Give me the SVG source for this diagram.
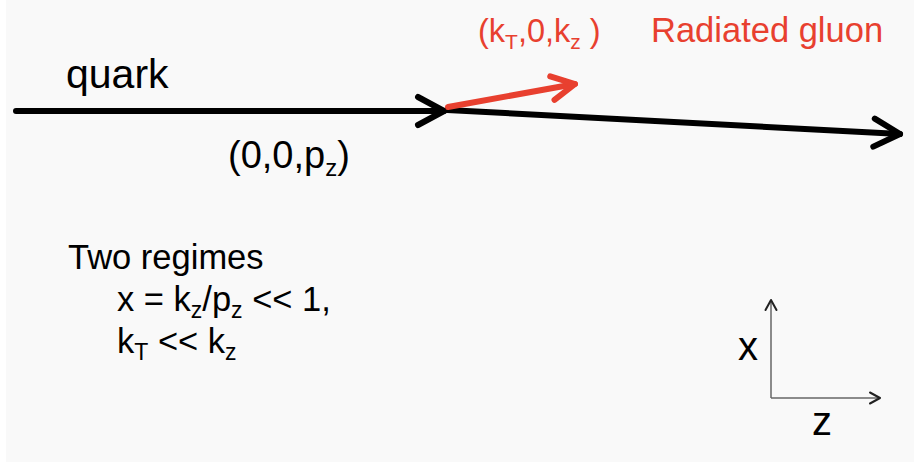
<svg xmlns="http://www.w3.org/2000/svg" width="914" height="462" viewBox="0 0 914 462">
<style>
text{font-family:"Liberation Sans",Arial,sans-serif;}
.blk{fill:#000;}
.red{fill:#e8402f;}
.thick{fill:none;stroke:#000;stroke-width:6;stroke-linecap:round;}
.thickred{fill:none;stroke:#e8402f;stroke-width:6;stroke-linecap:round;}
.axis{fill:none;stroke:#666;stroke-width:1.5;}
</style>
<defs>
<marker id="headBlack" markerUnits="userSpaceOnUse" viewBox="-32 -18 36 36" markerWidth="36" markerHeight="36" refX="0" refY="0" orient="auto" overflow="visible">
<path d="M-26,-14 L0,0 L-26,14" fill="none" stroke="#000" stroke-width="6" stroke-linecap="round" stroke-linejoin="round"/>
</marker>
<marker id="headRed" markerUnits="userSpaceOnUse" viewBox="-32 -18 36 36" markerWidth="36" markerHeight="36" refX="0" refY="0" orient="auto" overflow="visible">
<path d="M-23,-12 L0,0 L-23,12" fill="none" stroke="#e8402f" stroke-width="6" stroke-linecap="round" stroke-linejoin="round"/>
</marker>
<marker id="headAxis" markerUnits="userSpaceOnUse" viewBox="-14 -8 16 16" markerWidth="16" markerHeight="16" refX="0" refY="0" orient="auto" overflow="visible">
<path d="M-10,-5.5 L0,0 L-10,5.5" fill="none" stroke="#222" stroke-width="2" stroke-linecap="round" stroke-linejoin="round"/>
</marker>
</defs>
<rect x="0" y="0" width="914" height="462" fill="#ffffff"/>
<rect x="6" y="0" width="908" height="462" fill="#f9f9f9"/>

<g id="connectors">
<path id="quark-line" class="thick" d="M16,111 L444,111" marker-end="url(#headBlack)"/>
<path id="outgoing-quark" class="thick" d="M447,110 L900,134" marker-end="url(#headBlack)"/>
<path id="gluon-line" class="thickred" d="M448,107 L575,84" marker-end="url(#headRed)"/>
</g>

<g id="quark-label">
<text class="blk" x="66" y="88" font-size="41">quark</text>
</g>
<g id="quark-momentum">
<text class="blk" x="228" y="168" font-size="38">(0,0,p<tspan font-size="24" dy="8">z</tspan><tspan dy="-8">)</tspan></text>
</g>
<g id="gluon-momentum">
<text class="red" x="478" y="42" font-size="32.5">(k<tspan font-size="21" dy="7">T</tspan><tspan dy="-7">,0,k</tspan><tspan font-size="21" dy="7">z</tspan><tspan dy="-7"> )</tspan></text>
</g>
<g id="gluon-label">
<text class="red" x="651" y="42" font-size="34.5">Radiated gluon</text>
</g>
<g id="regimes">
<text class="blk" x="68" y="269" font-size="34.5">Two regimes</text>
<text class="blk" x="117" y="311" font-size="34.5">x = k<tspan font-size="23" dy="7">z</tspan><tspan dy="-7">/p</tspan><tspan font-size="23" dy="7">z</tspan><tspan dy="-7"> &lt;&lt; 1,</tspan></text>
<text class="blk" x="117" y="353" font-size="34.5">k<tspan font-size="23" dy="7">T</tspan><tspan dy="-7"> &lt;&lt; k</tspan><tspan font-size="23" dy="7">z</tspan></text>
</g>
<g id="axes">
<path class="axis" d="M771,398 L771,300" marker-end="url(#headAxis)"/>
<path class="axis" d="M771,398 L880,398" marker-end="url(#headAxis)"/>
<text class="blk" x="738" y="360" font-size="40">x</text>
<text class="blk" x="812" y="435" font-size="40">z</text>
</g>
</svg>
